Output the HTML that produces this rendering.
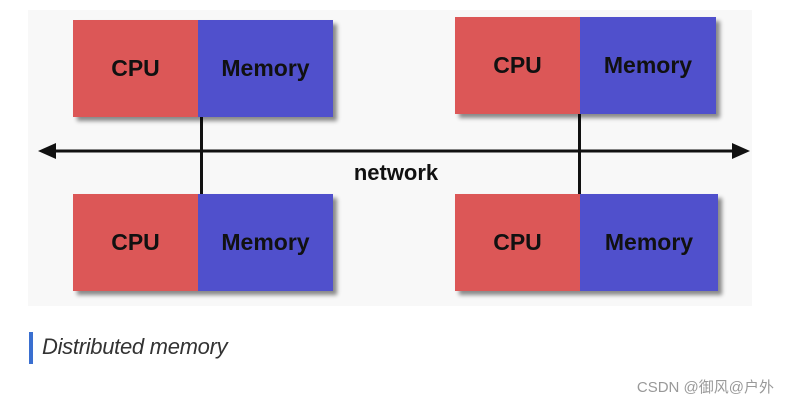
<!DOCTYPE html>
<html><head><style>
body{margin:0;width:788px;height:404px;background:#fff;position:relative;overflow:hidden;font-family:"Liberation Sans",sans-serif}
.bg{position:absolute;left:28px;top:10px;width:724px;height:296px;background:#f8f8f8}
.box{position:absolute;height:97px;display:flex;box-shadow:4px 4px 4px rgba(0,0,0,.45)}
.c{background:#dc5757;width:125px;display:flex;align-items:center;justify-content:center;font-weight:bold;font-size:23px;color:#111}
.m{background:#5050cc;flex:1;display:flex;align-items:center;justify-content:center;font-weight:bold;font-size:23px;color:#111}
.v{position:absolute;width:3px;background:#111}
</style></head><body>
<div class="bg"></div>
<div class="v" style="left:200px;top:110px;height:85px"></div>
<div class="v" style="left:578px;top:110px;height:85px"></div>
<svg style="position:absolute;left:0;top:0" width="788" height="404">
<line x1="50" y1="151" x2="738" y2="151" stroke="#111" stroke-width="3"/>
<polygon points="38,151 56,143 56,159" fill="#111"/>
<polygon points="750,151 732,143 732,159" fill="#111"/>
<text x="396" y="180" text-anchor="middle" font-family="Liberation Sans" font-weight="bold" font-size="22" fill="#111">network</text>
</svg>
<div class="box" style="left:73px;top:20px;width:260px"><div class="c">CPU</div><div class="m">Memory</div></div>
<div class="box" style="left:455px;top:17px;width:261px"><div class="c">CPU</div><div class="m">Memory</div></div>
<div class="box" style="left:73px;top:194px;width:260px"><div class="c">CPU</div><div class="m">Memory</div></div>
<div class="box" style="left:455px;top:194px;width:263px"><div class="c">CPU</div><div class="m">Memory</div></div>
<div style="position:absolute;left:29px;top:332px;width:4px;height:32px;background:#3a6fd0"></div>
<div style="position:absolute;left:42px;top:334px;font-style:italic;font-size:22px;color:#333;letter-spacing:-0.3px">Distributed memory</div>
<div style="position:absolute;right:14px;top:376px;font-size:15px;color:#999;font-family:'Liberation Sans','Noto Sans CJK SC',sans-serif">CSDN @御风@户外</div>
</body></html>
